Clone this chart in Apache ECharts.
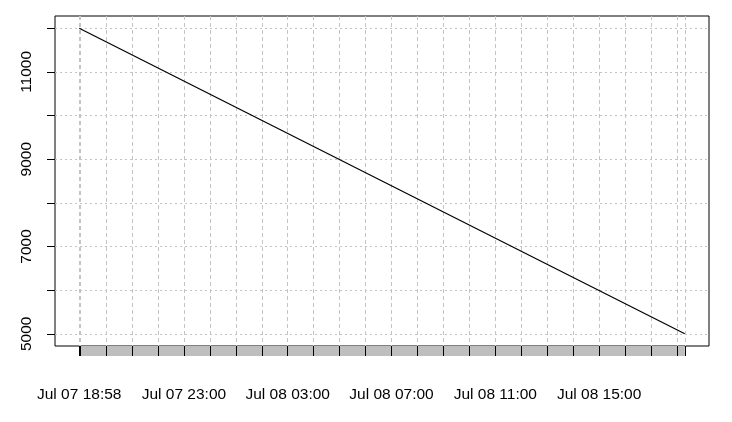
<!DOCTYPE html>
<html>
<head>
<meta charset="utf-8">
<script src="https://cdn.jsdelivr.net/npm/echarts@6/dist/echarts.min.js"></script>
<style>
  html, body { margin: 0; padding: 0; background: #fff; }
  #main { width: 732px; height: 422px; }
</style>
</head>
<body>
<div id="main"></div>
<script>
// series: start and end of the line (UTC)
var times = ['2020-07-07T18:58:00Z', '2020-07-08T18:18:00Z'];
var values = [12000, 5000];

// x axis ticks (one per hour plus first/last point)
var xTicks = [
  '2020-07-07T18:58:00Z', '2020-07-07T19:00:00Z', '2020-07-07T20:00:00Z', '2020-07-07T21:00:00Z',
  '2020-07-07T22:00:00Z', '2020-07-07T23:00:00Z', '2020-07-08T00:00:00Z', '2020-07-08T01:00:00Z',
  '2020-07-08T02:00:00Z', '2020-07-08T03:00:00Z', '2020-07-08T04:00:00Z', '2020-07-08T05:00:00Z',
  '2020-07-08T06:00:00Z', '2020-07-08T07:00:00Z', '2020-07-08T08:00:00Z', '2020-07-08T09:00:00Z',
  '2020-07-08T10:00:00Z', '2020-07-08T11:00:00Z', '2020-07-08T12:00:00Z', '2020-07-08T13:00:00Z',
  '2020-07-08T14:00:00Z', '2020-07-08T15:00:00Z', '2020-07-08T16:00:00Z', '2020-07-08T17:00:00Z',
  '2020-07-08T18:00:00Z', '2020-07-08T18:18:00Z'
];
var xLabels = [
  '2020-07-07T18:58:00Z', '2020-07-07T23:00:00Z', '2020-07-08T03:00:00Z',
  '2020-07-08T07:00:00Z', '2020-07-08T11:00:00Z', '2020-07-08T15:00:00Z'
];
var yTicks = [5000, 6000, 7000, 8000, 9000, 10000, 11000, 12000];
var yLabels = [5000, 7000, 9000, 11000];

var months = ['Jan','Feb','Mar','Apr','May','Jun','Jul','Aug','Sep','Oct','Nov','Dec'];
function pad(n) { return (n < 10 ? '0' : '') + n; }
function fmt(v) {
  var d = new Date(v);
  return months[d.getUTCMonth()] + ' ' + pad(d.getUTCDate()) + ' ' +
    pad(d.getUTCHours()) + ':' + pad(d.getUTCMinutes());
}

var t = times.map(function (s) { return Date.parse(s); });
var span = t[1] - t[0];
var xMin = t[0] - span * 0.04, xMax = t[1] + span * 0.04;
var yr = values[0] - values[1];
var yMin = Math.min.apply(null, values) - yr * 0.04;
var yMax = Math.max.apply(null, values) + yr * 0.04;

var tickMs = xTicks.map(function (s) { return Date.parse(s); });
var labelMs = xLabels.map(function (s) { return Date.parse(s); });
var lineData = t.map(function (x, i) { return [x, values[i]]; });
var barData = [[t[0], 1], [t[1], 1]];

var font = 'Liberation Sans, Arial, sans-serif';
var myChart = echarts.init(document.getElementById('main'));
var option = {
  animation: false,
  backgroundColor: '#fff',
  grid: [
    { left: 55, right: 23, top: 16, bottom: 76, show: true, borderColor: '#000', borderWidth: 1, backgroundColor: 'transparent' },
    { left: 55, right: 23, top: 346, height: 10 }
  ],
  xAxis: [
    {
      gridIndex: 0, type: 'value', min: xMin, max: xMax,
      axisLine: { show: false },
      axisTick: { show: false, customValues: tickMs },
      axisLabel: { show: false },
      splitLine: { show: true, lineStyle: { color: '#C4C4C4', type: [4, 3], width: 1 } }
    },
    {
      gridIndex: 1, type: 'value', min: xMin, max: xMax, z: 5,
      axisLine: { show: false },
      axisTick: { show: true, inside: true, length: 10, customValues: tickMs, lineStyle: { color: '#000', width: 1 } },
      axisLabel: {
        show: true, customValues: labelMs, margin: 31,
        fontFamily: font, fontSize: 15.5, color: '#000',
        formatter: function (v) { return fmt(v); }
      },
      splitLine: { show: false }
    }
  ],
  yAxis: [
    {
      gridIndex: 0, type: 'value', min: yMin, max: yMax,
      axisLine: { show: false },
      axisTick: { show: true, length: 8, customValues: yTicks, lineStyle: { color: '#000' } },
      axisLabel: {
        show: true, customValues: yLabels, rotate: 90, margin: 20,
        fontFamily: font, fontSize: 15.5, color: '#000',
        formatter: function (v) { return String(v); }
      },
      splitLine: { show: true, lineStyle: { color: '#C4C4C4', type: [2, 3], width: 1 } }
    },
    {
      gridIndex: 1, type: 'value', min: 0, max: 1, show: false
    }
  ],
  series: [
    {
      type: 'line', xAxisIndex: 0, yAxisIndex: 0, data: lineData,
      symbol: 'none', lineStyle: { color: '#000', width: 1.2 }
    },
    {
      type: 'line', xAxisIndex: 1, yAxisIndex: 1, data: barData,
      symbol: 'none', lineStyle: { width: 0 }, areaStyle: { color: '#BEBEBE', opacity: 1 }
    }
  ]
};
myChart.setOption(option);
</script>
</body>
</html>
